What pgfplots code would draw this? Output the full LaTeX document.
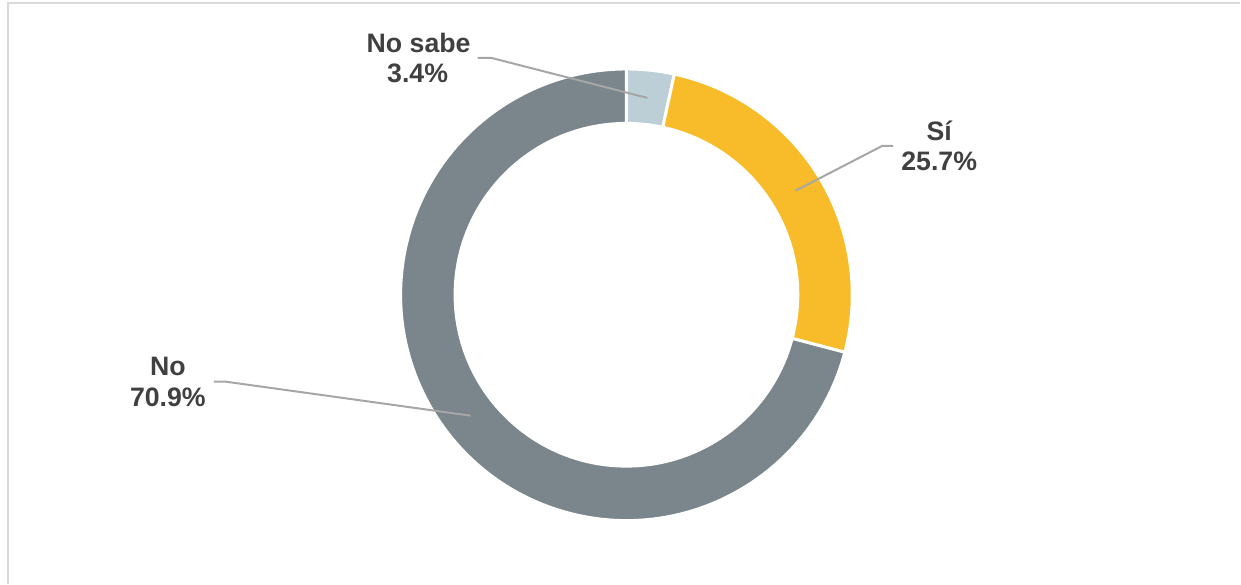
\documentclass[border=0pt]{standalone}
\usepackage{pgfplots}
\pgfplotsset{compat=1.18}
\usepackage{pgfplotstable}
\usetikzlibrary{calc}
\usepackage{fontspec}
\setmainfont{Liberation Sans}

\definecolor{seg0}{HTML}{BCCED6}
\definecolor{seg1}{HTML}{F8BC2A}
\definecolor{seg2}{HTML}{7B868C}
\definecolor{txt}{HTML}{404040}
\definecolor{leader}{HTML}{A6A6A6}
\definecolor{frame}{HTML}{D9D9D9}

% share (%) of each answer, clockwise from 12 o'clock
\pgfplotstableread{
idx value
0 3.4
1 25.7
2 70.9
}\donutdata

\begin{document}
\begin{tikzpicture}
\begin{axis}[
  width=12.41cm, height=5.84cm, scale only axis,
  xmin=0, xmax=1241, ymin=0, ymax=584,
  y dir=reverse,
  hide axis, clip=false,
]
\path (axis cs:0,0) rectangle (axis cs:1241,584);
\draw[frame, line width=0.22mm] (axis cs:8,584) -- (axis cs:8,3) -- (axis cs:1241,3);

\def\startang{90}
\pgfplotsforeachungrouped \i in {0,1,2}{%
  \pgfplotstablegetelem{\i}{value}\of\donutdata
  \pgfmathsetmacro\endang{\startang-3.6*\pgfplotsretval}%
  \edef\temp{\noexpand\filldraw[fill=seg\i, draw=white, line width=0.3mm]
    (\noexpand$(axis cs:627,295)+(\startang:22.6mm)\noexpand$)
    arc[start angle=\startang, end angle=\endang, radius=22.6mm]
    -- (\noexpand$(axis cs:627,295)+(\endang:17.15mm)\noexpand$)
    arc[start angle=\endang, end angle=\startang, radius=17.15mm] -- cycle;}%
  \temp
  \global\let\startang\endang
}

% leader lines
\draw[leader, line width=0.2mm] (axis cs:478,58) -- (axis cs:492,58) -- (axis cs:648,98);
\draw[leader, line width=0.2mm] (axis cs:894,146) -- (axis cs:883,146) -- (axis cs:796,191);
\draw[leader, line width=0.2mm] (axis cs:214,382) -- (axis cs:226,382) -- (axis cs:471,416);

% labels
\tikzset{lab/.style={anchor=base, text=txt, font=\fontsize{7.6pt}{9pt}\selectfont\bfseries, inner sep=0pt}}
\node[lab] at (axis cs:419,53) {No sabe};
\node[lab] at (axis cs:418,83) {3.4\%};
\node[lab] at (axis cs:940,141) {Sí};
\node[lab] at (axis cs:940,171) {25.7\%};
\node[lab] at (axis cs:168,376) {No};
\node[lab] at (axis cs:168,407) {70.9\%};
\end{axis}
\end{tikzpicture}
\end{document}
